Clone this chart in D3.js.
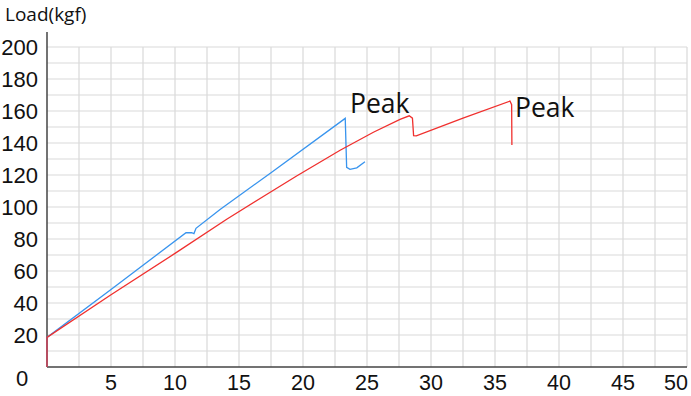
<!DOCTYPE html>
<html>
<head>
<meta charset="utf-8">
<script src="https://cdn.jsdelivr.net/npm/d3@7"></script>
<style>
  body { margin: 0; background: #fff; }
  svg { display: block; }
</style>
</head>
<body>
<div id="chart"></div>
<script>
// extension (mm) vs load (kgf)
var blueX = [0, 0, 5, 10.86, 11.3, 11.48, 11.64, 13.52, 17.5, 23.3, 23.41, 23.67, 24.2, 24.84];
var blueY = [0, 18.5, 48.5, 83.9, 83.9, 83.4, 86.7, 98.5, 121.4, 155.4, 124.8, 123.5, 124.5, 128.3];

var redX = [0, 0, 5, 10, 14.04, 16.9, 19.5, 22.9, 25.5, 27.58, 28.3, 28.55, 28.64, 28.85, 32.5, 36.17, 36.3, 36.32];
var redY = [0, 18.5, 45.2, 71, 92.3, 106.6, 119.4, 135.5, 146.7, 154.8, 157, 155.5, 144.6, 144.5, 155.6, 166.2, 164, 138.8];

var xTicks = [5, 10, 15, 20, 25, 30, 35, 40, 45, 50];
var yTicks = [20, 40, 60, 80, 100, 120, 140, 160, 180, 200];

// "Peak" labels, at data coordinates
var peakX = [23.67, 36.56];
var peakY = [158.7, 156.2];

function draw() {
    var w = 691;
    var h = 396;

    var x = d3.scaleLinear().domain([0, 50]).range([47, 687]);
    var y = d3.scaleLinear().domain([0, 200]).range([367, 47]);

    var svg = d3.select("#chart")
        .append("svg")
        .attr("width", w)
        .attr("height", h);

    // grid, every half tick
    svg.append("g")
        .selectAll("line")
        .data(d3.range(2.5, 50.01, 2.5))
        .enter()
        .append("line")
        .attr("x1", function (d) { return x(d); })
        .attr("x2", function (d) { return x(d); })
        .attr("y1", y(0))
        .attr("y2", y(200))
        .attr("stroke", "#d9d9d9")
        .attr("stroke-width", 1.2);

    svg.append("g")
        .selectAll("line")
        .data(d3.range(10, 200.01, 10))
        .enter()
        .append("line")
        .attr("x1", x(0))
        .attr("x2", x(50))
        .attr("y1", function (d) { return y(d); })
        .attr("y2", function (d) { return y(d); })
        .attr("stroke", "#d9d9d9")
        .attr("stroke-width", 1.2);

    // axes lines
    svg.append("line")
        .attr("x1", x(0)).attr("x2", x(0))
        .attr("y1", 32).attr("y2", y(0))
        .attr("stroke", "#444").attr("stroke-width", 1.5);
    svg.append("line")
        .attr("x1", x(0)).attr("x2", x(50))
        .attr("y1", y(0)).attr("y2", y(0))
        .attr("stroke", "#444").attr("stroke-width", 1.5);

    // tick labels
    svg.append("g")
        .selectAll("text")
        .data(yTicks)
        .enter()
        .append("text")
        .attr("x", 38)
        .attr("y", function (d) { return y(d) + 8; })
        .attr("text-anchor", "end")
        .attr("font-family", "Liberation Sans, Arial, sans-serif")
        .attr("font-size", 22)
        .attr("fill", "#111")
        .text(function (d) { return d; });

    // x labels sit at the very bottom edge, kept just inside it
    svg.append("g")
        .selectAll("text")
        .data(xTicks)
        .enter()
        .append("text")
        .attr("x", function (d) { return d === 50 ? x(d) + 1 : x(d); })
        .attr("y", 390)
        .attr("text-anchor", function (d) { return d === 50 ? "end" : "middle"; })
        .attr("font-family", "Liberation Sans, Arial, sans-serif")
        .attr("font-size", 21.5)
        .attr("fill", "#111")
        .text(function (d) { return d; });

    svg.append("text")
        .attr("x", 22)
        .attr("y", 386)
        .attr("text-anchor", "middle")
        .attr("font-family", "Liberation Sans, Arial, sans-serif")
        .attr("font-size", 22)
        .attr("fill", "#111")
        .text("0");

    svg.append("text")
        .attr("x", 5)
        .attr("y", 20.5)
        .attr("font-family", "Open Sans, sans-serif")
        .attr("font-size", 19)
        .attr("fill", "#111")
        .text("Load(kgf)");

    // the two curves
    var line = d3.line()
        .x(function (d) { return x(d[0]); })
        .y(function (d) { return y(d[1]); });

    svg.append("path")
        .datum(d3.zip(blueX, blueY))
        .attr("d", line)
        .attr("fill", "none")
        .attr("stroke", "#3894ee")
        .attr("stroke-width", 1.3);

    svg.append("path")
        .datum(d3.zip(redX, redY))
        .attr("d", line)
        .attr("fill", "none")
        .attr("stroke", "#f0302e")
        .attr("stroke-width", 1.3);

    svg.append("g")
        .selectAll("text")
        .data(d3.zip(peakX, peakY))
        .enter()
        .append("text")
        .attr("x", function (d) { return x(d[0]); })
        .attr("y", function (d) { return y(d[1]); })
        .attr("font-family", "Open Sans, sans-serif")
        .attr("font-size", 26.5)
        .attr("fill", "#111")
        .text("Peak");
}

draw();
</script>
</body>
</html>
